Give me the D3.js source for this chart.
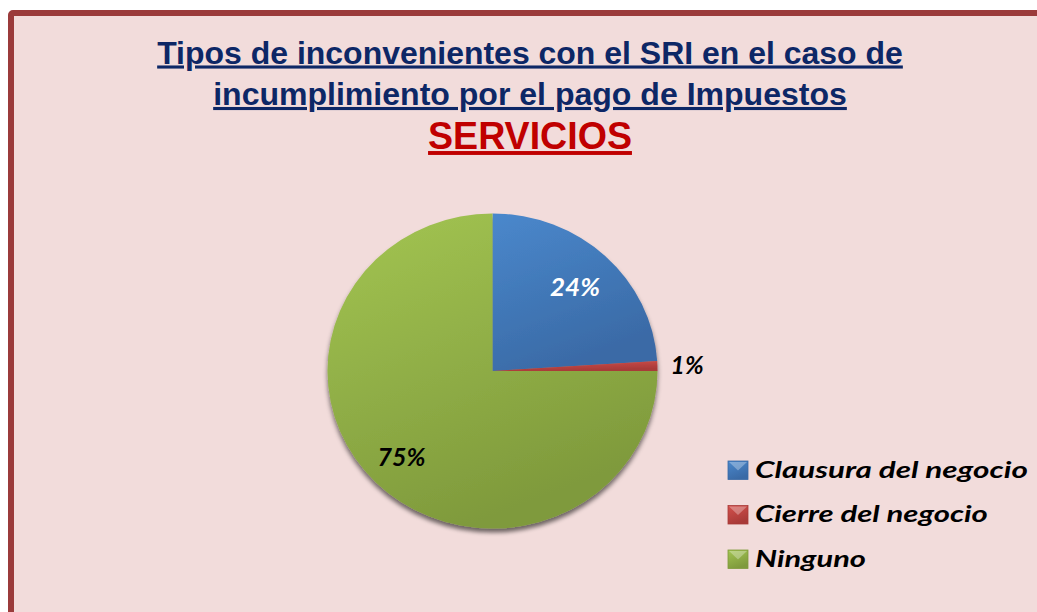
<!DOCTYPE html>
<html><head><meta charset="utf-8">
<script src="https://cdn.jsdelivr.net/npm/d3@7"></script>
<style>html,body{margin:0;padding:0;background:#fff;overflow:hidden}</style>
</head><body>
<svg id="c" width="1037" height="612"></svg>
<script>
const categories = ["Clausura del negocio", "Cierre del negocio", "Ninguno"];
const values = [24, 1, 75];
const labels = ["24%", "1%", "75%"];
const titleLines = ["Tipos de inconvenientes con el SRI en el caso de", "incumplimiento por el pago de Impuestos"];
const subtitle = "SERVICIOS";

const colors = {
  light: ["#4a88cc", "#d4504c", "#a3c552"],
  dark: ["#3a6aa6", "#a83a38", "#7f9a3c"]
};

const svg = d3.select("#c");
const defs = svg.append("defs");

function fitWidth(sel, x, y, target, anchor) {
  const w = sel.node().getComputedTextLength();
  const s = target / w;
  sel.attr("x", 0).attr("y", 0).attr("text-anchor", anchor)
    .attr("transform", `translate(${x},${y}) scale(${s},1)`);
}

// background + frame
svg.append("rect").attr("x", 11).attr("y", 13).attr("width", 1100).attr("height", 700)
  .attr("fill", "#f2dcdb").attr("stroke", "#9b3b3b").attr("stroke-width", 6).attr("rx", 2);

// title
const tg = svg.append("g").attr("font-family", "Liberation Sans, Arial, sans-serif")
  .attr("font-weight", "bold");
const titleY = [63.5, 105];
const titleW = [746, 634];
titleLines.forEach((t, i) => {
  const el = tg.append("text").attr("font-size", 31)
    .attr("fill", "#0d2766").attr("text-decoration", "underline").text(t);
  fitWidth(el, 530, titleY[i], titleW[i], "middle");
});
const sub = tg.append("text").attr("font-size", 39)
  .attr("fill", "#c00000").attr("text-decoration", "underline").text(subtitle);
fitWidth(sub, 530, 149, 204, "middle");

// gradients
categories.forEach((c, i) => {
  const g = defs.append("linearGradient").attr("id", "g" + i)
    .attr("x1", 0).attr("y1", 0).attr("x2", 0.4).attr("y2", 1);
  g.append("stop").attr("offset", "0%").attr("stop-color", colors.light[i]);
  g.append("stop").attr("offset", "100%").attr("stop-color", colors.dark[i]);
});
const f = defs.append("filter").attr("id", "sh").attr("x", "-20%").attr("y", "-20%").attr("width", "140%").attr("height", "140%");
f.append("feGaussianBlur").attr("in", "SourceAlpha").attr("stdDeviation", 2.5).attr("result", "b");
f.append("feOffset").attr("in", "b").attr("dx", 0).attr("dy", 4).attr("result", "o");
f.append("feComponentTransfer").attr("in", "o").attr("result", "o2")
  .append("feFuncA").attr("type", "linear").attr("slope", 0.55);
const fm = f.append("feMerge");
fm.append("feMergeNode").attr("in", "o2");
fm.append("feMergeNode").attr("in", "SourceGraphic");

// pie
const cx = 492.5, cy = 371, R = 165, SY = 0.955;
const pie = d3.pie().sort(null).value(d => d)(values);
const arc = d3.arc().innerRadius(0).outerRadius(R);
const pg = svg.append("g").attr("transform", `translate(${cx},${cy}) scale(1,${SY})`).attr("filter", "url(#sh)");
pg.selectAll("path").data(pie).enter().append("path")
  .attr("d", arc).attr("fill", (d, i) => `url(#g${i})`);

// data labels
const labelR = [0.73, 1.18, 0.78];
const labelW = [50, 33, 48];
const lg = svg.append("g")
  .attr("font-family", "Lato, sans-serif").attr("font-weight", "bold").attr("font-style", "italic")
  .attr("font-size", 24);
pie.forEach((d, i) => {
  const a = d3.arc().innerRadius(R * labelR[i]).outerRadius(R * labelR[i]);
  const p = a.centroid(d);
  const el = lg.append("text").attr("fill", i === 0 ? "#ffffff" : "#000000").text(labels[i]);
  fitWidth(el, cx + p[0], cy + p[1] * SY + 8.5, labelW[i], "middle");
});

// legend
const legendW = [273, 233, 111];
const leg = svg.append("g").attr("transform", "translate(728,461)");
categories.forEach((c, i) => {
  const g = leg.append("g").attr("transform", `translate(0,${i * 44.5})`);
  g.append("rect").attr("width", 20).attr("height", 18.5).attr("fill", `url(#g${i})`)
    .attr("stroke", colors.dark[i]).attr("stroke-width", 0.8);
  g.append("path").attr("d", "M1,1 L19,1 L10,9.5 Z").attr("fill", "#ffffff").attr("opacity", 0.3);
  const el = g.append("text")
    .attr("font-family", "Lato, sans-serif").attr("font-weight", "bold").attr("font-style", "italic")
    .attr("font-size", 23).attr("fill", "#000").text(c);
  fitWidth(el, 27, 16.5, legendW[i], "start");
});
</script>
</body></html>
